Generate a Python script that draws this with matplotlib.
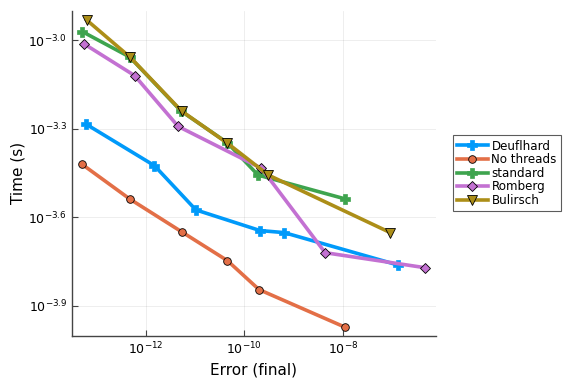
import numpy as np
import matplotlib
matplotlib.use("Agg")
import matplotlib.pyplot as plt

# log10 of error / time
deuf_err = [-13.21, -11.82, -10.98, -9.68, -9.19, -6.88]
deuf_time = [-3.284, -3.425, -3.575, -3.645, -3.652, -3.762]

nothr_err = [-13.29, -12.32, -11.27, -10.34, -9.70, -7.95]
nothr_time = [-3.420, -3.538, -3.649, -3.747, -3.845, -3.973]

std_err = [-13.28, -12.32, -11.28, -10.34, -9.72, -7.95]
std_time = [-2.971, -3.057, -3.240, -3.348, -3.457, -3.538]

romb_err = [-13.25, -12.22, -11.34, -9.65, -8.36, -6.33]
romb_time = [-3.012, -3.120, -3.292, -3.434, -3.720, -3.771]

bul_err = [-13.19, -12.31, -11.27, -10.34, -9.51, -7.04]
bul_time = [-2.932, -3.058, -3.240, -3.349, -3.457, -3.652]

series = [
    ("Deuflhard", deuf_err, deuf_time, "#009AFA", "P"),
    ("No threads", nothr_err, nothr_time, "#E36F47", "o"),
    ("standard", std_err, std_time, "#3EA44E", "P"),
    ("Romberg", romb_err, romb_time, "#C371D2", "D"),
    ("Bulirsch", bul_err, bul_time, "#AC8E18", "v"),
]

ytick_exp = [-3.0, -3.3, -3.6, -3.9]
xtick_exp = [-12, -10, -8]

fig = plt.figure(figsize=(5.76, 3.84), dpi=100)
ax = fig.add_axes([0.125, 0.126, 0.6314, 0.8454])

for name, e, t, c, m in series:
    x = 10.0 ** np.array(e)
    y = 10.0 ** np.array(t)
    if m == "P":
        ax.plot(x, y, color=c, lw=2.6, marker=m, ms=6.5, mec=c, mew=0.5, label=name)
    else:
        ms = 5.5 if m != "v" else 6.5
        ax.plot(x, y, color=c, lw=2.6, marker=m, ms=ms if m != "D" else 4.8,
                mec="black", mew=0.6, label=name)

ax.set_xscale("log")
ax.set_yscale("log")
ax.set_xlim(10 ** -13.49, 10 ** -6.12)
ax.set_ylim(10 ** -4.001, 10 ** -2.901)

ax.set_xticks([10.0 ** v for v in xtick_exp])
ax.set_xticklabels([r"$10^{%d}$" % v for v in xtick_exp])
ax.set_yticks([10.0 ** v for v in ytick_exp])
ax.set_yticklabels([r"$10^{%.1f}$" % v for v in ytick_exp])
ax.minorticks_off()
ax.tick_params(direction="in", length=4, width=0.8, labelsize=9, color="#444444")

ax.grid(True, color="#000000", alpha=0.08, lw=0.6)
for s in ["top", "right"]:
    ax.spines[s].set_visible(False)
for s in ["left", "bottom"]:
    ax.spines[s].set_color("#444444")
    ax.spines[s].set_linewidth(1.0)

ax.set_xlabel("Error (final)", fontsize=11)
ax.set_ylabel("Time (s)", fontsize=11, labelpad=2)

leg = ax.legend(loc="center left", bbox_to_anchor=(1.03, 0.5), fontsize=8.6,
                frameon=True, fancybox=False, handlelength=2.6,
                borderpad=0.35, labelspacing=0.05, handletextpad=0.3)
leg.get_frame().set_edgecolor("#333333")
leg.get_frame().set_linewidth(0.8)

fig.savefig("out.png", dpi=100)
